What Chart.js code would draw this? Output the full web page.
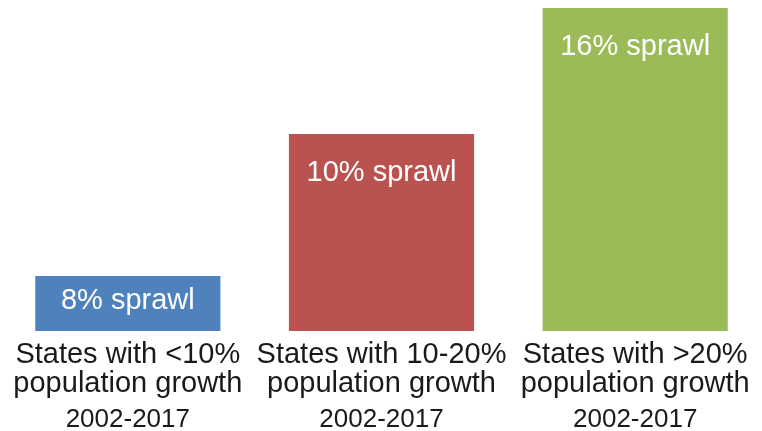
<!DOCTYPE html>
<html>
<head>
<meta charset="utf-8">
<script src="https://cdn.jsdelivr.net/npm/chart.js@4"></script>
<style>
  html, body { margin: 0; padding: 0; background: #fff; }
  #wrap { width: 762px; height: 431px; }
</style>
</head>
<body>
<div id="wrap"><canvas id="sprawlChart"></canvas></div>
<script>
// Example data (bar heights, relative to the tallest bar)
const groups = ['<10%', '10-20%', '>20%'];
const barHeights = [17, 61, 100];
const sprawlLabels = ['8% sprawl', '10% sprawl', '16% sprawl'];
const categoryLines = [
  ['States with <10%', 'population growth'],
  ['States with 10-20%', 'population growth'],
  ['States with >20%', 'population growth'],
];
const periodLabel = '2002-2017';
const barColors = ['#4F81BD', '#BA534F', '#9BBB59'];

const FONT = '"Liberation Sans", Arial, Helvetica, sans-serif';

// Draws the white text inside each bar and the category text under it
const textPlugin = {
  id: 'barText',
  afterDatasetsDraw(chart) {
    const ctx = chart.ctx;
    const meta = chart.getDatasetMeta(0);
    const bottom = chart.chartArea.bottom;
    ctx.save();
    ctx.textAlign = 'center';
    meta.data.forEach((bar, i) => {
      const h = bar.base - bar.y;
      ctx.fillStyle = '#ffffff';
      ctx.font = '29px ' + FONT;
      ctx.textBaseline = 'middle';
      const ty = h < 80 ? bar.y + h / 2 - 3 : bar.y + 39;
      ctx.fillText(sprawlLabels[i], bar.x, ty);

      ctx.fillStyle = '#1a1a1a';
      ctx.textBaseline = 'alphabetic';
      ctx.font = '29px ' + FONT;
      ctx.fillText(categoryLines[i][0], bar.x, bottom + 32);
      ctx.fillText(categoryLines[i][1], bar.x, bottom + 61);
      ctx.font = '26px ' + FONT;
      ctx.fillText(periodLabel, bar.x, bottom + 96);
    });
    ctx.restore();
  }
};

new Chart(document.getElementById('sprawlChart').getContext('2d'), {
  type: 'bar',
  data: {
    labels: groups,
    datasets: [{
      data: barHeights,
      backgroundColor: barColors,
      borderWidth: 0,
      categoryPercentage: 1,
      barPercentage: 0.73,
    }],
  },
  options: {
    responsive: true,
    maintainAspectRatio: false,
    animation: false,
    layout: { padding: { top: 8, bottom: 100, left: 1, right: 0 } },
    plugins: { legend: { display: false }, tooltip: { enabled: false } },
    scales: {
      x: { display: false },
      y: { display: false, min: 0, max: 100 },
    },
  },
  plugins: [textPlugin],
});
</script>
</body>
</html>
